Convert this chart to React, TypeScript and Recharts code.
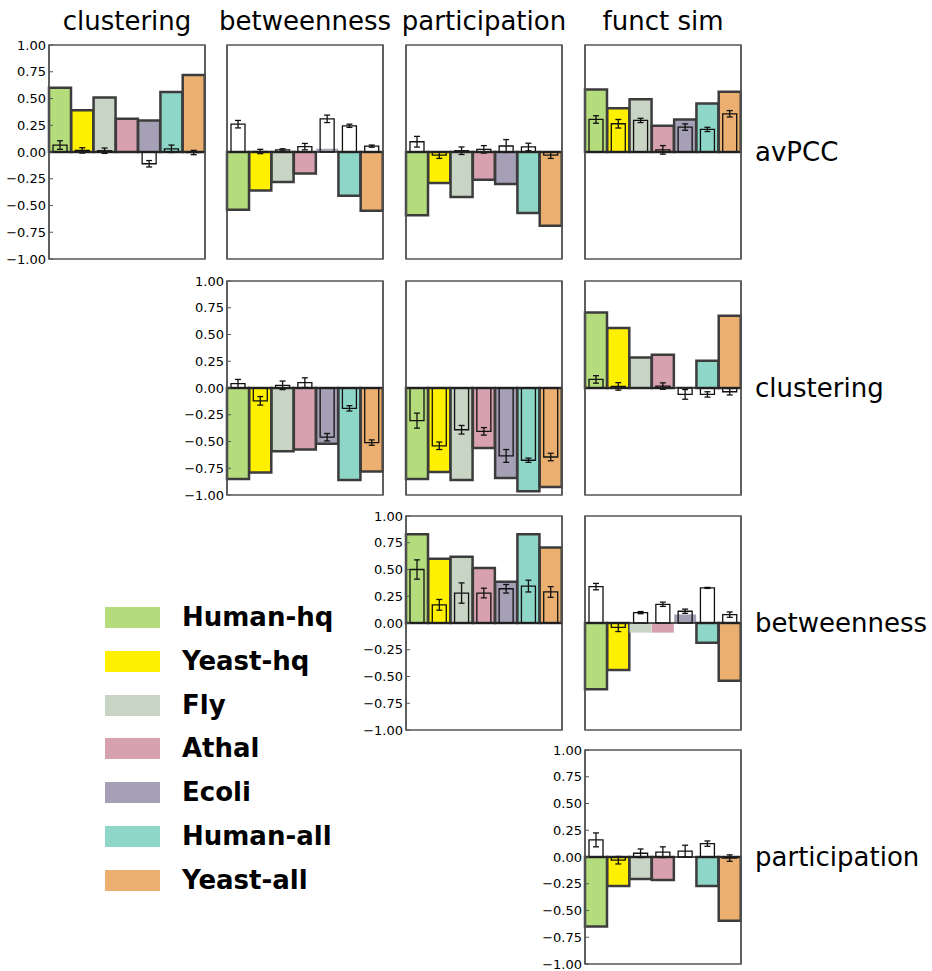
import React from 'react';
import { ComposedChart, Bar, XAxis, YAxis, ErrorBar, Cell, ReferenceLine, ReferenceArea } from 'recharts';

const species = ['Human-hq', 'Yeast-hq', 'Fly', 'Athal', 'Ecoli', 'Human-all', 'Yeast-all'];
const colTitles = ['clustering', 'betweenness', 'participation', 'funct sim'];
const rowTitles = ['avPCC', 'clustering', 'betweenness', 'participation'];
const yTicks = [1, 0.75, 0.5, 0.25, 0, -0.25, -0.5, -0.75, -1];

// avPCC row
const corAvpccClust = [0.6, 0.39, 0.51, 0.31, 0.295, 0.56, 0.72];
const rndAvpccClust = [0.065, 0.015, 0.012, 0.0, -0.11, 0.03, -0.005];
const errAvpccClust = [0.04, 0.025, 0.025, 0.04, 0.03, 0.035, 0.02];

const corAvpccBetw = [-0.54, -0.36, -0.28, -0.2, 0.03, -0.41, -0.55];
const rndAvpccBetw = [0.26, 0.005, 0.02, 0.05, 0.31, 0.245, 0.055];
const errAvpccBetw = [0.035, 0.02, 0.01, 0.03, 0.035, 0.015, 0.01];
const nsAvpccBetw = ['Ecoli'];

const corAvpccPart = [-0.59, -0.29, -0.42, -0.26, -0.3, -0.57, -0.69];
const rndAvpccPart = [0.096, -0.03, 0.012, 0.025, 0.056, 0.047, -0.03];
const errAvpccPart = [0.05, 0.03, 0.035, 0.035, 0.06, 0.035, 0.03];

const corAvpccFunc = [0.584, 0.41, 0.494, 0.245, 0.304, 0.453, 0.562];
const rndAvpccFunc = [0.304, 0.264, 0.295, 0.02, 0.233, 0.211, 0.357];
const errAvpccFunc = [0.035, 0.04, 0.02, 0.04, 0.03, 0.02, 0.03];

// clustering row
const corClustBetw = [-0.85, -0.79, -0.59, -0.575, -0.52, -0.86, -0.78];
const rndClustBetw = [0.04, -0.12, 0.025, 0.05, -0.46, -0.19, -0.51];
const errClustBetw = [0.04, 0.04, 0.04, 0.045, 0.035, 0.025, 0.025];

const corClustPart = [-0.85, -0.785, -0.86, -0.56, -0.84, -0.965, -0.925];
const rndClustPart = [-0.305, -0.54, -0.39, -0.405, -0.635, -0.675, -0.645];
const errClustPart = [0.07, 0.035, 0.04, 0.035, 0.06, 0.02, 0.035];

const corClustFunc = [0.705, 0.56, 0.285, 0.31, 0.015, 0.255, 0.675];
const rndClustFunc = [0.08, 0.015, 0.0, 0.018, -0.06, -0.06, -0.035];
const errClustFunc = [0.035, 0.035, 0.035, 0.03, 0.045, 0.025, 0.03];
const nsClustFunc = ['Ecoli'];

// betweenness row
const corBetwPart = [0.83, 0.6, 0.62, 0.515, 0.385, 0.83, 0.705];
const rndBetwPart = [0.5, 0.17, 0.28, 0.28, 0.32, 0.345, 0.29];
const errBetwPart = [0.09, 0.05, 0.095, 0.045, 0.04, 0.055, 0.05];

const corBetwFunc = [-0.62, -0.44, -0.09, -0.09, 0.08, -0.185, -0.54];
const rndBetwFunc = [0.34, -0.04, 0.097, 0.175, 0.11, 0.328, 0.078];
const errBetwFunc = [0.03, 0.04, 0.01, 0.02, 0.02, 0.005, 0.025];
const nsBetwFunc = ['Fly', 'Athal', 'Ecoli'];

// participation row
const corPartFunc = [-0.65, -0.27, -0.205, -0.215, -0.005, -0.27, -0.595];
const rndPartFunc = [0.16, -0.03, 0.035, 0.045, 0.055, 0.125, -0.01];
const errPartFunc = [0.065, 0.035, 0.04, 0.05, 0.055, 0.025, 0.03];
const nsPartFunc = ['Ecoli'];

const colors = ['#b4dc7c', '#fff000', '#c8d4c4', '#d7a1b0', '#a6a0b6', '#8ed6c8', '#ebb070'];

const colX = [49, 227, 406, 585];
const rowY = [45, 281, 516, 750];
const plotW = 156;
const plotH = 214;
const axisW = 50;
const pad = 10;
const frame = '#555';
const font = '"DejaVu Sans", Verdana, sans-serif';

const panels = [
  { row: 0, col: 0, cor: corAvpccClust, rnd: rndAvpccClust, err: errAvpccClust, ns: [] as string[] },
  { row: 0, col: 1, cor: corAvpccBetw, rnd: rndAvpccBetw, err: errAvpccBetw, ns: nsAvpccBetw },
  { row: 0, col: 2, cor: corAvpccPart, rnd: rndAvpccPart, err: errAvpccPart, ns: [] },
  { row: 0, col: 3, cor: corAvpccFunc, rnd: rndAvpccFunc, err: errAvpccFunc, ns: [] },
  { row: 1, col: 1, cor: corClustBetw, rnd: rndClustBetw, err: errClustBetw, ns: [] },
  { row: 1, col: 2, cor: corClustPart, rnd: rndClustPart, err: errClustPart, ns: [] },
  { row: 1, col: 3, cor: corClustFunc, rnd: rndClustFunc, err: errClustFunc, ns: nsClustFunc },
  { row: 2, col: 2, cor: corBetwPart, rnd: rndBetwPart, err: errBetwPart, ns: [] },
  { row: 2, col: 3, cor: corBetwFunc, rnd: rndBetwFunc, err: errBetwFunc, ns: nsBetwFunc },
  { row: 3, col: 3, cor: corPartFunc, rnd: rndPartFunc, err: errPartFunc, ns: nsPartFunc },
];

const fmt = (v: number) => (v < 0 ? '\u2212' : '') + Math.abs(v).toFixed(2);

function Panel({ cor, rnd, err, ns, showLabels }: any) {
  const data = species.map((s, i) => ({ name: s, cor: cor[i], rnd: rnd[i], err: err[i] }));
  const line = { stroke: frame, strokeWidth: 1.5 };
  return (
    <ComposedChart
      width={axisW + plotW + 4}
      height={plotH + pad * 2}
      data={data}
      margin={{ top: pad, right: 0, bottom: pad, left: 0 }}
      barCategoryGap={0}
      barGap={0}
    >
      <XAxis xAxisId="b" dataKey="name" height={0} tick={false} tickLine={false} axisLine={false} />
      <XAxis xAxisId="t" dataKey="name" orientation="top" height={0} tick={false} tickLine={false} axisLine={false} />
      <YAxis
        yAxisId="l"
        type="number"
        domain={[-1, 1]}
        ticks={yTicks}
        interval={0}
        width={axisW}
        tickSize={-4}
        tickMargin={7}
        tickFormatter={fmt}
        tick={showLabels ? { fill: '#000', fontSize: 13, fontFamily: font } : false}
        tickLine={{ stroke: frame }}
        axisLine={line}
        allowDataOverflow
      />
      <YAxis
        yAxisId="r"
        orientation="right"
        type="number"
        domain={[-1, 1]}
        ticks={yTicks}
        interval={0}
        width={4}
        tickSize={-4}
        tick={false}
        tickLine={{ stroke: frame }}
        axisLine={line}
        allowDataOverflow
      />
      <Bar xAxisId="b" yAxisId="l" dataKey="cor" isAnimationActive={false}>
        {data.map((d, i) => (
          <Cell
            key={d.name}
            fill={colors[i]}
            stroke={ns.includes(d.name) ? 'none' : '#3c3c3c'}
            strokeWidth={2.5}
          />
        ))}
      </Bar>
      <Bar
        xAxisId="t"
        yAxisId="l"
        dataKey="rnd"
        barSize={14}
        fill="none"
        stroke="#111"
        strokeWidth={1.3}
        isAnimationActive={false}
      >
        <ErrorBar dataKey="err" width={3} stroke="#111" strokeWidth={1.3} direction="y" />
      </Bar>
      <ReferenceLine xAxisId="b" yAxisId="l" y={0} stroke="#222" strokeWidth={1.5} />
      <ReferenceArea
        xAxisId="b"
        yAxisId="l"
        y1={-1}
        y2={1}
        fill="none"
        fillOpacity={0}
        stroke={frame}
        strokeWidth={1.5}
        ifOverflow="visible"
      />
    </ComposedChart>
  );
}

export default function App() {
  return (
    <div style={{ position: 'absolute', left: 0, top: 0, width: 932, height: 971, background: '#fff', fontFamily: font }}>
      {colTitles.map((t, c) => (
        <div
          key={t}
          style={{
            position: 'absolute',
            left: colX[c] + plotW / 2 - 100,
            top: 6,
            width: 200,
            textAlign: 'center',
            fontSize: 26,
            lineHeight: '30px',
            whiteSpace: 'nowrap',
          }}
        >
          {t}
        </div>
      ))}
      {rowTitles.map((t, r) => (
        <div
          key={t + r}
          style={{
            position: 'absolute',
            left: 755,
            top: rowY[r] + plotH / 2 - 15,
            fontSize: 26,
            lineHeight: '30px',
            whiteSpace: 'nowrap',
          }}
        >
          {t}
        </div>
      ))}
      {panels.map((p) => (
        <div
          key={p.row + '-' + p.col}
          style={{ position: 'absolute', left: colX[p.col] - axisW, top: rowY[p.row] - pad }}
        >
          <Panel cor={p.cor} rnd={p.rnd} err={p.err} ns={p.ns} showLabels={p.row === p.col} />
        </div>
      ))}
      {species.map((s, i) => (
        <div
          key={s}
          style={{ position: 'absolute', left: 105, top: 607 + i * 43.8, height: 21, display: 'flex', alignItems: 'center' }}
        >
          <div style={{ width: 55, height: 21, background: colors[i] }} />
          <div style={{ marginLeft: 22, fontSize: 26, fontWeight: 'bold', lineHeight: '21px', whiteSpace: 'nowrap' }}>{s}</div>
        </div>
      ))}
    </div>
  );
}
